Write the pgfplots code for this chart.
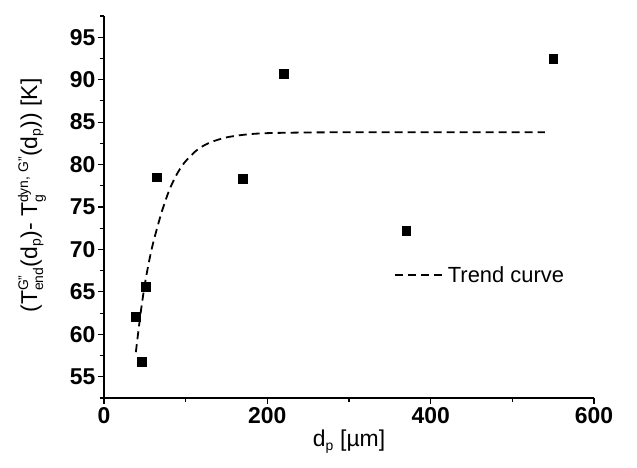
\documentclass[border=0pt]{standalone}
\usepackage{amsmath}
\usepackage{fontspec}
\setmainfont{Liberation Sans}
\usepackage{pgfplots}
\pgfplotsset{compat=1.18}
\newcommand{\scr}[1]{\text{\fontsize{14}{14}\selectfont #1}}
\begin{document}
\begin{tikzpicture}
\path[use as bounding box] (-104bp,-70bp) rectangle (533bp,398bp);
\begin{axis}[
  at={(0,0)}, anchor=south west,
  scale only axis, width=490bp, height=382bp,
  xmin=0, xmax=600, ymin=52.5, ymax=97.5,
  axis x line*=bottom, axis y line*=left,
  axis line style={line width=1.2bp, -},
  tick align=outside,
  every tick/.style={black, line width=1.2bp},
  major tick length=6bp, minor tick length=4bp,
  xtick={0,200,400,600}, minor xtick={100,300,500},
  ytick={55,60,...,95}, minor ytick={52.5,57.5,...,97.5},
  /pgf/number format/assume math mode=true,
  tick label style={font=\fontsize{23}{23}\selectfont\bfseries},
  yticklabel style={xshift=1bp},
  label style={font=\fontsize{23}{25}\selectfont},
  xlabel={d$_{\scr{p}}$ [µm]},
  ylabel={(T$^{\scr{G''}}_{\scr{end}}$(d$_{\scr{p}}$)- T$^{\scr{dyn, G''}}_{\scr{g}}$(d$_{\scr{p}}$)) [K]},
  xlabel style={at={(axis description cs:0.5,-0.128)}, anchor=base},
  ylabel style={at={(axis description cs:-0.147,0.53)}, anchor=center},
  legend style={at={(axis cs:355,67)}, anchor=west, draw=none, fill=none,
    font=\fontsize{22}{22}\selectfont, inner sep=0pt},
  legend image code/.code={\draw[#1] (0bp,0bp) -- (50bp,0bp);},
  legend cell align=left,
]
\addplot[only marks, mark=square*, mark size=4.4bp, black, forget plot] coordinates {
  (39,62.1) (46,56.8) (51,65.6) (65,78.5) (170,78.3) (220,90.7) (370,72.2) (550,92.5)
};
\addplot[black, line width=1.8bp, dash pattern=on 8bp off 5bp, smooth] coordinates {
  (39,57.9) (45,62.6) (50,65.9) (55,68.5) (60,70.7) (70,74.2) (80,77.0) (90,79.0)
  (100,80.4) (115,81.8) (130,82.6) (150,83.2) (175,83.55) (200,83.7) (250,83.78)
  (300,83.8) (400,83.8) (540,83.8)
};
\addlegendentry{Trend curve}
\end{axis}
\end{tikzpicture}
\end{document}
